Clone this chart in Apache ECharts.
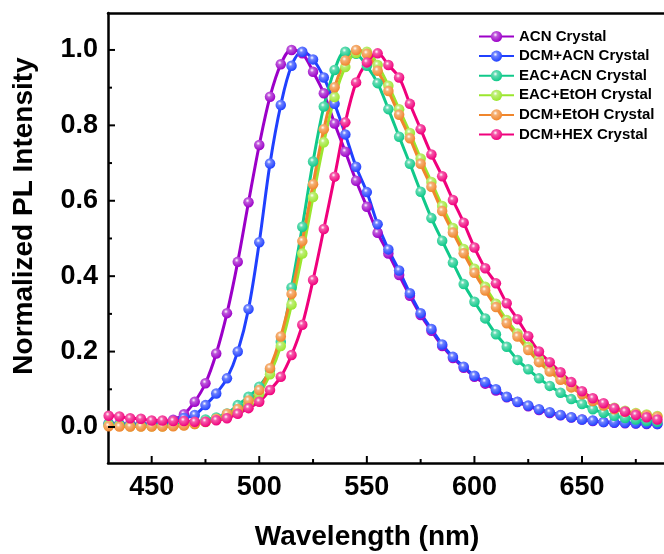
<!DOCTYPE html>
<html><head><meta charset="utf-8">
<script src="https://cdn.jsdelivr.net/npm/echarts@6/dist/echarts.min.js"></script>
<style>html,body{margin:0;padding:0;background:#fff}#c{width:664px;height:554px}</style>
</head><body><div id="c"></div>
<script>
const wavelengths = [430,435,440,445,450,455,460,465,470,475,480,485,490,495,500,505,510,515,520,525,530,535,540,545,550,555,560,565,570,575,580,585,590,595,600,605,610,615,620,625,630,635,640,645,650,655,660,665,670,675,680,685];

const acnCrystal = [0.010,0.009,0.008,0.008,0.008,0.010,0.019,0.034,0.067,0.116,0.195,0.302,0.438,0.596,0.748,0.876,0.962,1.000,0.991,0.942,0.885,0.805,0.730,0.653,0.584,0.515,0.460,0.403,0.348,0.297,0.255,0.215,0.183,0.157,0.133,0.115,0.097,0.079,0.066,0.055,0.045,0.037,0.031,0.025,0.020,0.016,0.013,0.011,0.010,0.009,0.008,0.008];
const dcmAcnCrystal = [0.008,0.007,0.006,0.006,0.006,0.008,0.015,0.024,0.032,0.058,0.089,0.129,0.200,0.313,0.490,0.699,0.854,0.958,0.995,0.975,0.927,0.857,0.776,0.690,0.623,0.538,0.471,0.415,0.355,0.302,0.260,0.219,0.186,0.160,0.136,0.119,0.100,0.080,0.067,0.057,0.047,0.039,0.032,0.026,0.020,0.017,0.013,0.012,0.011,0.010,0.009,0.008];
const eacAcnCrystal = [0.008,0.006,0.005,0.005,0.005,0.005,0.006,0.008,0.012,0.020,0.025,0.036,0.058,0.080,0.107,0.151,0.226,0.370,0.531,0.704,0.850,0.947,0.995,0.990,0.958,0.912,0.843,0.770,0.698,0.624,0.554,0.494,0.436,0.379,0.332,0.288,0.246,0.213,0.178,0.153,0.129,0.109,0.091,0.074,0.061,0.047,0.038,0.030,0.024,0.020,0.016,0.014];
const eacEtohCrystal = [0.004,0.003,0.002,0.002,0.002,0.002,0.003,0.005,0.008,0.013,0.020,0.030,0.043,0.062,0.088,0.140,0.215,0.325,0.460,0.610,0.755,0.875,0.955,0.992,0.995,0.960,0.905,0.843,0.780,0.712,0.650,0.586,0.528,0.472,0.420,0.372,0.327,0.284,0.248,0.212,0.180,0.154,0.131,0.110,0.092,0.074,0.061,0.051,0.043,0.037,0.033,0.029];
const dcmEtohCrystal = [0.002,0.001,0.001,0.001,0.001,0.001,0.002,0.004,0.008,0.014,0.022,0.035,0.048,0.070,0.098,0.156,0.240,0.353,0.493,0.644,0.790,0.901,0.972,1.000,0.990,0.945,0.891,0.828,0.766,0.698,0.637,0.573,0.516,0.461,0.409,0.362,0.318,0.275,0.240,0.204,0.172,0.147,0.125,0.105,0.087,0.069,0.057,0.047,0.040,0.035,0.031,0.027];
const dcmHexCrystal = [0.030,0.028,0.023,0.022,0.017,0.017,0.016,0.016,0.014,0.014,0.018,0.023,0.035,0.050,0.067,0.098,0.133,0.191,0.271,0.390,0.525,0.664,0.808,0.914,0.967,0.991,0.960,0.927,0.857,0.790,0.723,0.665,0.602,0.542,0.476,0.421,0.381,0.328,0.286,0.241,0.200,0.172,0.145,0.119,0.095,0.076,0.063,0.050,0.041,0.032,0.026,0.020];

const seriesNames = ['ACN Crystal','DCM+ACN Crystal','EAC+ACN Crystal','EAC+EtOH Crystal','DCM+EtOH Crystal','DCM+HEX Crystal'];
const seriesValues = [acnCrystal, dcmAcnCrystal, eacAcnCrystal, eacEtohCrystal, dcmEtohCrystal, dcmHexCrystal];
const seriesColors = ['#9C00C8','#2040FF','#10C98A','#9BE62E','#F0862C','#F0007C'];

const xMajorTicks = [450,500,550,600,650];
const xMinorTicks = [475,525,575,625,675];
const yMajorTicks = [0,0.2,0.4,0.6,0.8,1.0];
const yMinorTicks = [0.1,0.3,0.5,0.7,0.9];

const X_MIN = 429.7, X_MAX = 688.1, Y_MIN = -0.0955, Y_MAX = 1.098;
const FONT = '"Liberation Sans", Arial, sans-serif';

function ball(c) {
  return { type:'radial', x:0.4, y:0.35, r:0.65,
    colorStops:[{offset:0,color:'#ffffff'},{offset:0.3,color:echarts.color.lift(c,0.35)},{offset:1,color:c}] };
}

const axisLineStyle = {color:'#000', width:2.5};
const labelStyle = {fontFamily:FONT, fontWeight:'bold', fontSize:27, color:'#000'};

// tick marks drawn through the axis scales (api.coord), inward from the axis line
function tickSeries(values, isX, len) {
  return {
    type:'custom', silent:true, z:10, clip:false, xAxisIndex:0, yAxisIndex:0,
    data: values.map(v => isX ? [v, Y_MIN] : [X_MIN, v]),
    renderItem: (params, api) => {
      const p = api.coord([api.value(0), api.value(1)]);
      const shape = isX ? {x1:p[0], y1:p[1], x2:p[0], y2:p[1]-len}
                        : {x1:p[0], y1:p[1], x2:p[0]+len, y2:p[1]};
      return {type:'line', shape, style:{stroke:'#000', lineWidth:2}};
    }
  };
}

const chart = echarts.init(document.getElementById('c'));
chart.setOption({
  animation:false,
  backgroundColor:'#fff',
  grid:{left:108, top:13, right:0, bottom:91},
  legend:{
    orient:'vertical', left:478, top:29, padding:0, itemWidth:35, itemHeight:14, itemGap:4.6,
    textStyle:{fontFamily:FONT, fontWeight:'bold', fontSize:15, color:'#000'},
    data:seriesNames
  },
  xAxis:[
    {type:'value', min:X_MIN, max:X_MAX, position:'bottom',
     axisLine:{show:true, onZero:false, lineStyle:axisLineStyle},
     axisTick:{show:false},
     axisLabel:{show:true, margin:11, customValues:xMajorTicks, ...labelStyle},
     splitLine:{show:false}},
    {type:'value', min:X_MIN, max:X_MAX, position:'top',
     axisLine:{show:true, onZero:false, lineStyle:axisLineStyle},
     axisTick:{show:false}, axisLabel:{show:false}, splitLine:{show:false}}
  ],
  yAxis:[
    {type:'value', min:Y_MIN, max:Y_MAX, position:'left',
     axisLine:{show:true, onZero:false, lineStyle:axisLineStyle},
     axisTick:{show:false},
     axisLabel:{show:true, margin:10, customValues:yMajorTicks, formatter:v=>v.toFixed(1), ...labelStyle},
     splitLine:{show:false}}
  ],
  graphic:[
    {type:'text', x:367, y:537, style:{text:'Wavelength (nm)', font:'bold 28px '+FONT, fill:'#000', textAlign:'center', textVerticalAlign:'middle'}},
    {type:'text', x:24, y:216, rotation:Math.PI/2, style:{text:'Normalized PL Intensity', font:'bold 28px '+FONT, fill:'#000', textAlign:'center', textVerticalAlign:'middle'}}
  ],
  series: seriesNames.map((name,i)=>({
    name, type:'line', xAxisIndex:0, yAxisIndex:0,
    data: wavelengths.map((w,j)=>[w, seriesValues[i][j]]),
    smooth:0.35, showAllSymbol:true, symbol:'circle', symbolSize:10.5,
    lineStyle:{color:seriesColors[i], width:3},
    itemStyle:{color:ball(seriesColors[i]), borderWidth:0},
    emphasis:{disabled:true}, clip:true
  })).concat([
    tickSeries(xMajorTicks, true, 7),
    tickSeries(xMinorTicks, true, 4),
    tickSeries(yMajorTicks, false, 7),
    tickSeries(yMinorTicks, false, 4)
  ])
});
</script></body></html>
